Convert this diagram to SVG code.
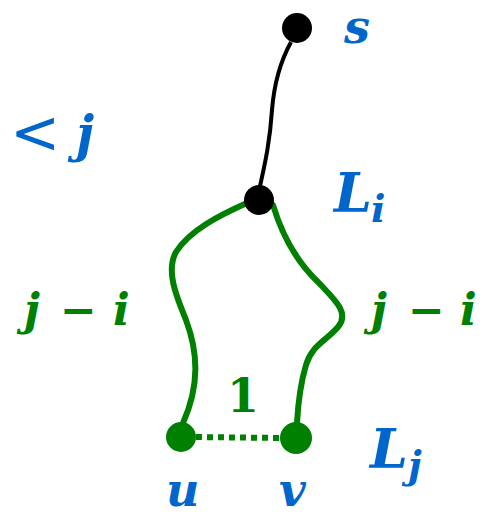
<svg xmlns="http://www.w3.org/2000/svg" width="487" height="516" viewBox="0 0 487 516">
<style>
.b{fill:#0066cc;font-family:"DejaVu Serif",serif;font-weight:bold;font-style:italic}
.g{fill:#008000;font-family:"DejaVu Serif",serif;font-weight:bold;font-style:italic}
.n{font-style:normal}
.gl{fill:none;stroke:#008000;stroke-width:6;stroke-linecap:round}
</style>
<rect width="487" height="516" fill="#fff"/>
<g id="edges">
<path d="M291,42 C280,62 274,85 272,110 C270,140 266,160 258,195" fill="none" stroke="#000" stroke-width="4"/>
<path class="gl" d="M247,203 C220,215 190,230 176,252 C165,272 178,300 186,320 C198,352 200,385 183,423"/>
<path class="gl" d="M273,205 C282,235 295,260 318,282 C335,300 350,313 338,327 C325,342 312,345 306,365 C300,385 298,405 297,423"/>
<line x1="196" y1="437" x2="280" y2="438" stroke="#008000" stroke-width="6" stroke-dasharray="6,5"/>
</g>
<g id="s"><circle cx="297" cy="28" r="15" fill="#000"/><text class="b" x="344" y="43" font-size="46">s</text></g>
<g id="Li"><circle cx="259" cy="200" r="15" fill="#000"/><text class="b" x="334" y="212" font-size="54">L<tspan font-size="38" dy="10" dx="-1">i</tspan></text></g>
<g id="u"><circle cx="181" cy="437" r="15" fill="#008000"/><text class="b" x="166" y="506" font-size="46">u</text></g>
<g id="v"><circle cx="296" cy="438" r="16" fill="#008000"/><text class="b" x="279" y="506" font-size="46">v</text></g>
<g id="labels">
<text x="10" y="153" font-size="60" style="fill:#0066cc;font-family:'DejaVu Sans',sans-serif;font-weight:normal;font-style:normal">&lt;</text>
<text class="b" x="76" y="151" font-size="50">j</text>
<text class="g" x="24" y="325" font-size="44">j</text>
<text class="g n" x="60" y="325" font-size="44">−</text>
<text class="g" x="113" y="325" font-size="44">i</text>
<text class="g" x="371" y="325" font-size="44">j</text>
<text class="g n" x="408" y="325" font-size="44">−</text>
<text class="g" x="460" y="325" font-size="44">i</text>
<text class="g n" x="227" y="412" font-size="46">1</text>
<text class="b" x="370" y="468" font-size="54">L<tspan font-size="38" dy="10" dx="0">j</tspan></text>
</g>
</svg>
